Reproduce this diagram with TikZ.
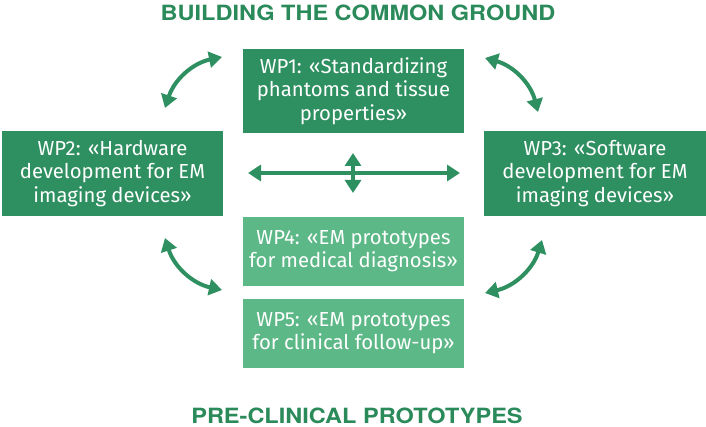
\documentclass[tikz,border=0pt]{standalone}
\usepackage{fontspec}
\setmainfont{Fira Sans}
\newfontfamily\titlefont{TeX Gyre Heros}[FakeStretch=1.12]
\usetikzlibrary{arrows.meta}
\definecolor{dgreen}{HTML}{2E8F60}
\definecolor{lgreen}{HTML}{5DB887}
\definecolor{tgreen}{HTML}{2A8A5A}
\tikzset{
  wpbox/.style={fill=dgreen, text=white, inner sep=0pt, align=center,
    font=\fontsize{20.3}{23.3}\selectfont, minimum width=221pt},
  wplight/.style={wpbox, fill=lgreen},
  titletext/.style={text=tgreen, font=\titlefont\bfseries\fontsize{21}{24}\selectfont, inner sep=0pt},
  link/.style={draw=dgreen, line width=4pt, {Triangle[length=13pt,width=16pt]}-{Triangle[length=13pt,width=16pt]}}
}
\begin{document}
\begin{tikzpicture}[x=1pt,y=1pt]
\useasboundingbox (0,0) rectangle (706,-427);
\node[titletext] (top) at (358,-13) {BUILDING THE COMMON GROUND};
\node[titletext] (bot) at (357,-416) {PRE-CLINICAL PROTOTYPES};
\node[wpbox, minimum height=84pt] (wp1) at (353.5,-91) {WP1: «Standardizing\\phantoms and tissue\\properties»};
\node[wpbox, minimum height=85pt] (wp2) at (112.5,-173.5) {WP2: «Hardware\\development for EM\\imaging devices»};
\node[wpbox, minimum height=85pt, minimum width=222pt] (wp3) at (595,-173.5) {WP3: «Software\\development for EM\\imaging devices»};
\node[wplight, minimum height=69pt] (wp4) at (353.5,-251.5) {WP4: «EM prototypes\\for medical diagnosis»};
\node[wplight, minimum height=69pt] (wp5) at (353.5,-333.5) {WP5: «EM prototypes\\for clinical follow-up»};
\coordinate (tla) at (165,-108);
\coordinate (tlb) at (222,-57);
\coordinate (tra) at (485,-58);
\coordinate (trb) at (538,-112);
\coordinate (bla) at (165,-238);
\coordinate (blb) at (222,-290);
\coordinate (bra) at (542,-240);
\coordinate (brb) at (485,-293);
\coordinate (hl) at (248,-173);
\coordinate (hr) at (460,-173);
\coordinate (vt) at (353,-153);
\coordinate (vb) at (353,-193);
\draw[link] (tla) to[bend left=30] (tlb);
\draw[link] (tra) to[bend left=30] (trb);
\draw[link] (bla) to[bend right=30] (blb);
\draw[link] (bra) to[bend left=30] (brb);
\draw[link] (hl) -- (hr);
\draw[link] (vt) -- (vb);
\end{tikzpicture}
\end{document}
